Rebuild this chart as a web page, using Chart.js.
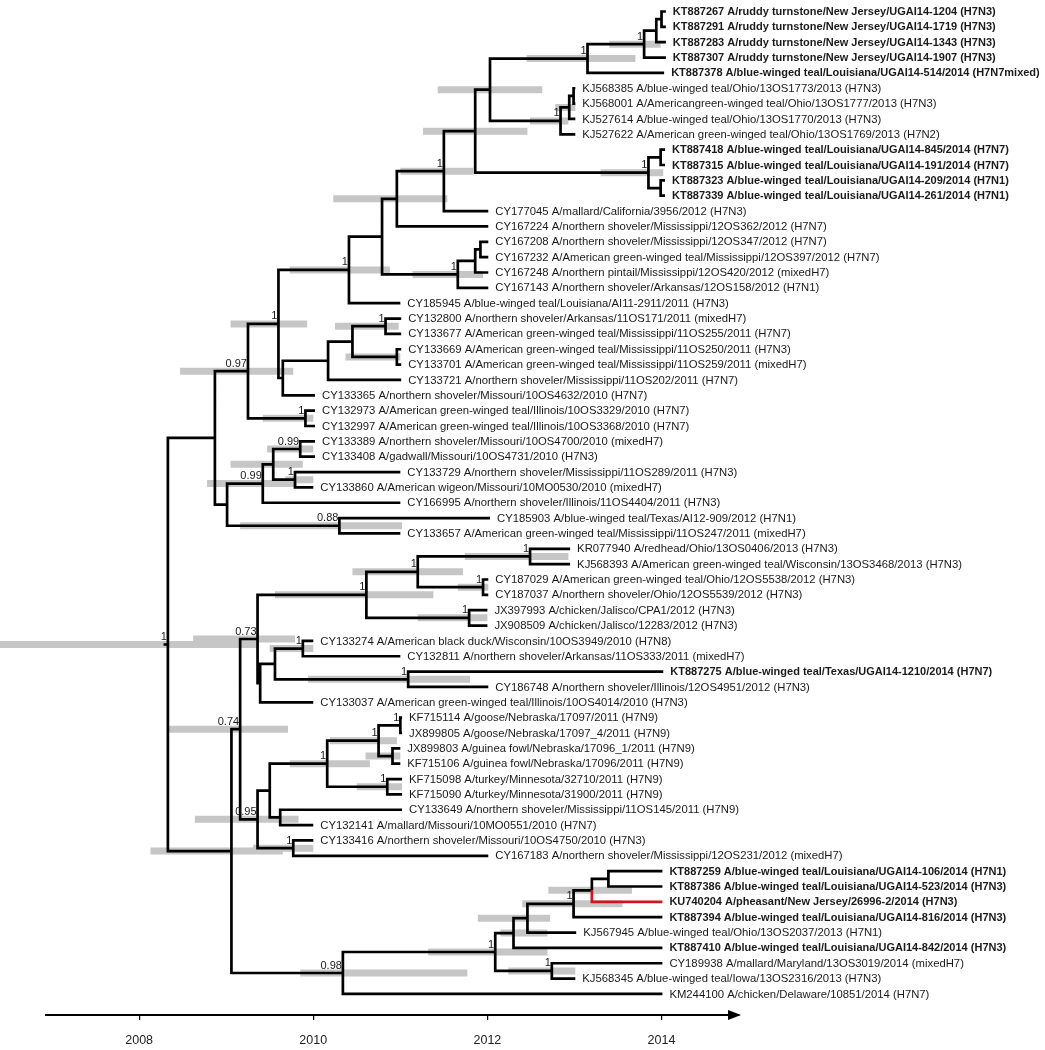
<!DOCTYPE html>
<html>
<head>
<meta charset="utf-8">
<title>H7 time-scaled phylogeny</title>
<script src="https://cdn.jsdelivr.net/npm/chart.js@4.4.1/dist/chart.umd.min.js"></script>
<style>
  body { margin: 0; background: #fff; }
  canvas { display: block; }
</style>
</head>
<body>
<canvas id="tree" width="1045" height="1050"></canvas>
<script>
// tip labels, top to bottom
const leafLabels = [
  'KT887267 A/ruddy turnstone/New Jersey/UGAI14-1204 (H7N3)',
  'KT887291 A/ruddy turnstone/New Jersey/UGAI14-1719 (H7N3)',
  'KT887283 A/ruddy turnstone/New Jersey/UGAI14-1343 (H7N3)',
  'KT887307 A/ruddy turnstone/New Jersey/UGAI14-1907 (H7N3)',
  'KT887378 A/blue-winged teal/Louisiana/UGAI14-514/2014 (H7N7mixed)',
  'KJ568385 A/blue-winged teal/Ohio/13OS1773/2013 (H7N3)',
  'KJ568001 A/Americangreen-winged teal/Ohio/13OS1777/2013 (H7N3)',
  'KJ527614 A/blue-winged teal/Ohio/13OS1770/2013 (H7N3)',
  'KJ527622 A/American green-winged teal/Ohio/13OS1769/2013 (H7N2)',
  'KT887418 A/blue-winged teal/Louisiana/UGAI14-845/2014 (H7N7)',
  'KT887315 A/blue-winged teal/Louisiana/UGAI14-191/2014 (H7N7)',
  'KT887323 A/blue-winged teal/Louisiana/UGAI14-209/2014 (H7N1)',
  'KT887339 A/blue-winged teal/Louisiana/UGAI14-261/2014 (H7N1)',
  'CY177045 A/mallard/California/3956/2012 (H7N3)',
  'CY167224 A/northern shoveler/Mississippi/12OS362/2012 (H7N7)',
  'CY167208 A/northern shoveler/Mississippi/12OS347/2012 (H7N7)',
  'CY167232 A/American green-winged teal/Mississippi/12OS397/2012 (H7N7)',
  'CY167248 A/northern pintail/Mississippi/12OS420/2012 (mixedH7)',
  'CY167143 A/northern shoveler/Arkansas/12OS158/2012 (H7N1)',
  'CY185945 A/blue-winged teal/Louisiana/AI11-2911/2011 (H7N3)',
  'CY132800 A/northern shoveler/Arkansas/11OS171/2011 (mixedH7)',
  'CY133677 A/American green-winged teal/Mississippi/11OS255/2011 (H7N7)',
  'CY133669 A/American green-winged teal/Mississippi/11OS250/2011 (H7N3)',
  'CY133701 A/American green-winged teal/Mississippi/11OS259/2011 (mixedH7)',
  'CY133721 A/northern shoveler/Mississippi/11OS202/2011 (H7N7)',
  'CY133365 A/northern shoveler/Missouri/10OS4632/2010 (H7N7)',
  'CY132973 A/American green-winged teal/Illinois/10OS3329/2010 (H7N7)',
  'CY132997 A/American green-winged teal/Illinois/10OS3368/2010 (H7N7)',
  'CY133389 A/northern shoveler/Missouri/10OS4700/2010 (mixedH7)',
  'CY133408 A/gadwall/Missouri/10OS4731/2010 (H7N3)',
  'CY133729 A/northern shoveler/Mississippi/11OS289/2011 (H7N3)',
  'CY133860 A/American wigeon/Missouri/10MO0530/2010 (mixedH7)',
  'CY166995 A/northern shoveler/Illinois/11OS4404/2011 (H7N3)',
  'CY185903 A/blue-winged teal/Texas/AI12-909/2012 (H7N1)',
  'CY133657 A/American green-winged teal/Mississippi/11OS247/2011 (mixedH7)',
  'KR077940 A/redhead/Ohio/13OS0406/2013 (H7N3)',
  'KJ568393 A/American green-winged teal/Wisconsin/13OS3468/2013 (H7N3)',
  'CY187029 A/American green-winged teal/Ohio/12OS5538/2012 (H7N3)',
  'CY187037 A/northern shoveler/Ohio/12OS5539/2012 (H7N3)',
  'JX397993 A/chicken/Jalisco/CPA1/2012 (H7N3)',
  'JX908509 A/chicken/Jalisco/12283/2012 (H7N3)',
  'CY133274 A/American black duck/Wisconsin/10OS3949/2010 (H7N8)',
  'CY132811 A/northern shoveler/Arkansas/11OS333/2011 (mixedH7)',
  'KT887275 A/blue-winged teal/Texas/UGAI14-1210/2014 (H7N7)',
  'CY186748 A/northern shoveler/Illinois/12OS4951/2012 (H7N3)',
  'CY133037 A/American green-winged teal/Illinois/10OS4014/2010 (H7N3)',
  'KF715114 A/goose/Nebraska/17097/2011 (H7N9)',
  'JX899805 A/goose/Nebraska/17097_4/2011 (H7N9)',
  'JX899803 A/guinea fowl/Nebraska/17096_1/2011 (H7N9)',
  'KF715106 A/guinea fowl/Nebraska/17096/2011 (H7N9)',
  'KF715098 A/turkey/Minnesota/32710/2011 (H7N9)',
  'KF715090 A/turkey/Minnesota/31900/2011 (H7N9)',
  'CY133649 A/northern shoveler/Mississippi/11OS145/2011 (H7N9)',
  'CY132141 A/mallard/Missouri/10MO0551/2010 (H7N7)',
  'CY133416 A/northern shoveler/Missouri/10OS4750/2010 (H7N3)',
  'CY167183 A/northern shoveler/Mississippi/12OS231/2012 (mixedH7)',
  'KT887259 A/blue-winged teal/Louisiana/UGAI14-106/2014 (H7N1)',
  'KT887386 A/blue-winged teal/Louisiana/UGAI14-523/2014 (H7N3)',
  'KU740204 A/pheasant/New Jersey/26996-2/2014 (H7N3)',
  'KT887394 A/blue-winged teal/Louisiana/UGAI14-816/2014 (H7N3)',
  'KJ567945 A/blue-winged teal/Ohio/13OS2037/2013 (H7N1)',
  'KT887410 A/blue-winged teal/Louisiana/UGAI14-842/2014 (H7N3)',
  'CY189938 A/mallard/Maryland/13OS3019/2014 (mixedH7)',
  'KJ568345 A/blue-winged teal/Iowa/13OS2316/2013 (H7N3)',
  'KM244100 A/chicken/Delaware/10851/2014 (H7N7)'
];

// tip dates (decimal years), same order
const leafDates = [
  2014.05, 2014.05, 2014.05, 2014.05, 2014.03,
  2013.01, 2013.01, 2013.01, 2013.01,
  2014.04, 2014.04, 2014.04, 2014.04,
  2012.01, 2012.01, 2012.01, 2012.01, 2012.01, 2012.01,
  2011.00,
  2011.01, 2011.01, 2011.01, 2011.01, 2011.01,
  2010.02, 2010.02, 2010.02, 2010.02, 2010.02,
  2011.00, 2010.00, 2011.00, 2012.03, 2011.00,
  2012.95, 2012.95, 2012.01, 2012.01, 2012.00, 2012.00,
  2010.00, 2011.00, 2014.02, 2012.01, 2010.00,
  2011.02, 2011.02, 2011.00, 2011.00, 2011.02, 2011.02,
  2011.02, 2010.00, 2010.00, 2012.01,
  2014.01, 2014.01, 2014.01, 2014.01, 2013.02, 2014.01,
  2014.01, 2013.01, 2014.01
];

// sequences from this study (bold) and the highlighted one (red branch)
const studyIsolates = ['KT887267', 'KT887291', 'KT887283', 'KT887307', 'KT887378',
  'KT887418', 'KT887315', 'KT887323', 'KT887339', 'KT887275',
  'KT887259', 'KT887386', 'KU740204', 'KT887394', 'KT887410'];
const highlightIsolate = 'KU740204';

const yearTicks = [2008, 2010, 2012, 2014];

// internal nodes: [id, children, node date, posterior, 95% HPD low, 95% HPD high]
const nodes = [
  ['a1', ['KT887267', 'KT887291'], 2014.00, null, null, null],
  ['a2', ['a1', 'KT887283'], 2013.94, null, null, null],
  ['a3', ['a2', 'KT887307'], 2013.80, '1', 2013.40, 2013.99],
  ['a4', ['a3', 'KT887378'], 2013.15, '1', 2012.45, 2013.70],
  ['b1', ['KJ568385', 'KJ568001'], 2012.99, null, null, null],
  ['b2', ['b1', 'KJ527614'], 2012.94, null, 2012.78, 2013.01],
  ['b3', ['b2', 'KJ527622'], 2012.84, '1', 2012.49, 2012.93],
  ['c1', ['a4', 'b3'], 2012.03, null, 2011.43, 2012.63],
  ['d1', ['KT887418', 'KT887315'], 2013.99, null, null, null],
  ['d2', ['KT887323', 'KT887339'], 2013.99, null, null, null],
  ['d3', ['d1', 'd2'], 2013.85, '1', 2013.30, 2014.02],
  ['c2', ['c1', 'd3'], 2011.86, null, 2011.26, 2012.46],
  ['c3', ['c2', 'CY177045'], 2011.50, '1', 2011.00, 2011.84],
  ['c4', ['c3', 'CY167224'], 2010.96, null, 2010.23, 2011.54],
  ['e1', ['CY167208', 'CY167232'], 2011.92, null, null, null],
  ['e2', ['e1', 'CY167248'], 2011.86, null, null, null],
  ['e3', ['e2', 'CY167143'], 2011.66, '1', 2011.14, 2011.95],
  ['c5', ['c4', 'e3'], 2010.79, null, null, null],
  ['c6', ['c5', 'CY185945'], 2010.41, '1', 2009.73, 2010.88],
  ['f1', ['CY132800', 'CY133677'], 2010.83, '1', 2010.25, 2010.98],
  ['f2', ['CY133669', 'CY133701'], 2010.96, null, 2010.37, 2011.00],
  ['f3', ['f1', 'f2'], 2010.45, null, null, null],
  ['f4', ['f3', 'CY133721'], 2010.17, null, null, null],
  ['f5', ['f4', 'CY133365'], 2009.65, null, null, null],
  ['g1', ['c6', 'f5'], 2009.60, '1', 2009.05, 2009.93],
  ['g2', ['CY132973', 'CY132997'], 2009.91, '1', 2009.42, 2010.00],
  ['g3', ['g1', 'g2'], 2009.25, '0.97', 2008.47, 2009.77],
  ['h1', ['CY133389', 'CY133408'], 2009.85, '0.99', 2009.47, 2010.00],
  ['h2', ['CY133729', 'CY133860'], 2009.79, '1', 2009.68, 2010.00],
  ['h3', ['h1', 'h2'], 2009.54, null, 2009.05, 2009.88],
  ['h4', ['h3', 'CY166995'], 2009.42, '0.99', 2008.78, 2009.81],
  ['h5', ['CY185903', 'CY133657'], 2010.30, '0.88', 2009.16, 2011.02],
  ['h6', ['h4', 'h5'], 2009.01, null, null, null],
  ['u1', ['g3', 'h6'], 2008.87, null, null, null],
  ['i1', ['KR077940', 'KJ568393'], 2012.49, '1', 2011.74, 2012.93],
  ['i2', ['CY187029', 'CY187037'], 2011.95, '1', 2011.66, 2012.01],
  ['i3', ['i1', 'i2'], 2011.20, '1', 2010.45, 2011.72],
  ['i4', ['JX397993', 'JX908509'], 2011.79, '1', 2011.20, 2012.00],
  ['i5', ['i3', 'i4'], 2010.61, '1', 2009.56, 2011.38],
  ['j1', ['CY133274', 'CY132811'], 2009.88, '1', 2009.50, 2010.00],
  ['j2', ['KT887275', 'CY186748'], 2011.09, '1', 2009.94, 2011.80],
  ['j3', ['j1', 'j2'], 2009.56, null, null, null],
  ['j4', ['j3', 'CY133037'], 2009.39, null, null, null],
  ['i6', ['i5', 'j4'], 2009.36, '0.73', 2008.62, 2009.79],
  ['k1', ['KF715114', 'JX899805'], 2011.00, '1', null, null],
  ['k2', ['JX899803', 'KF715106'], 2010.91, null, 2010.60, 2011.00],
  ['k3', ['k1', 'k2'], 2010.75, '1', 2010.19, 2010.96],
  ['k4', ['KF715098', 'KF715090'], 2010.85, '1', 2010.50, 2011.02],
  ['k5', ['k3', 'k4'], 2010.16, '1', 2009.73, 2010.65],
  ['k6', ['CY133649', 'CY132141'], 2009.62, null, null, null],
  ['k7', ['k5', 'k6'], 2009.50, null, null, null],
  ['k8', ['CY133416', 'CY167183'], 2009.77, '1', 2009.31, 2010.00],
  ['k9', ['k7', 'k8'], 2009.36, '0.95', 2008.64, 2009.83],
  ['m1', ['i6', 'k9'], 2009.16, '0.74', 2008.32, 2009.71],
  ['p1', ['KT887259', 'KT887386'], 2013.39, null, null, null],
  ['p2', ['p1', 'KU740204'], 2013.20, null, 2012.70, 2013.66],
  ['p3', ['p2', 'KT887394'], 2012.99, '1', 2012.40, 2013.55],
  ['p4', ['p3', 'KJ567945'], 2012.46, null, 2011.89, 2012.72],
  ['p5', ['p4', 'KT887410'], 2012.30, null, 2012.15, 2012.69],
  ['p6', ['CY189938', 'KJ568345'], 2012.74, '1', 2012.24, 2013.01],
  ['p7', ['p5', 'p6'], 2012.09, '1', 2011.32, 2012.69],
  ['p8', ['p7', 'KM244100'], 2010.34, '0.98', 2009.85, 2011.77],
  ['m2', ['m1', 'p8'], 2009.06, null, 2008.13, 2009.65],
  ['root', ['u1', 'm2'], 2008.33, '1', 2006.20, 2009.36]
];

const FONT = '"Liberation Sans", Arial, Helvetica, sans-serif';

// work out node positions: tips on rows, internal nodes between first and last child
const pos = {};
leafLabels.forEach((lab, i) => {
  pos[lab.split(' ')[0]] = { t: leafDates[i], y: i };
});
nodes.forEach(n => {
  const kids = n[1];
  pos[n[0]] = { t: n[2], y: (pos[kids[0]].y + pos[kids[kids.length - 1]].y) / 2 };
});

const branchPts = [];
const redPts = [];
const hpdPts = [];
nodes.forEach(n => {
  const p = pos[n[0]];
  n[1].forEach(k => {
    const c = pos[k];
    const arr = (k === highlightIsolate) ? redPts : branchPts;
    arr.push({ x: p.t, y: p.y }, { x: p.t, y: c.y }, { x: c.t, y: c.y }, { x: c.t, y: null });
  });
  if (n[4] !== null) {
    hpdPts.push({ x: n[4], y: p.y }, { x: n[5], y: p.y }, { x: n[5], y: null });
  }
});
// short stem above the root
const rootPos = pos['root'];
branchPts.push({ x: rootPos.t - 0.05, y: rootPos.y }, { x: rootPos.t, y: rootPos.y });

const labelPlugin = {
  id: 'treeLabels',
  afterDatasetsDraw(chart) {
    const ctx = chart.ctx;
    const xs = chart.scales.x, ys = chart.scales.y;
    ctx.save();
    ctx.fillStyle = '#1a1a1a';
    ctx.textBaseline = 'middle';
    ctx.textAlign = 'left';
    leafLabels.forEach((lab, i) => {
      const bold = studyIsolates.includes(lab.split(' ')[0]);
      ctx.font = bold ? 'bold 11px ' + FONT : '11.3px ' + FONT;
      ctx.fillText(lab, xs.getPixelForValue(leafDates[i]) + 7, ys.getPixelForValue(i) + 0.5);
    });
    ctx.font = '11px ' + FONT;
    ctx.textAlign = 'right';
    ctx.textBaseline = 'bottom';
    nodes.forEach(n => {
      if (!n[3]) return;
      const p = pos[n[0]];
      ctx.fillText(n[3], xs.getPixelForValue(p.t) - 1, ys.getPixelForValue(p.y) - 2);
    });
    ctx.restore();
  },
  afterDraw(chart) {
    // arrow head at the end of the time axis
    const ctx = chart.ctx;
    const a = chart.chartArea;
    ctx.save();
    ctx.fillStyle = '#000';
    ctx.beginPath();
    ctx.moveTo(a.right + 2, a.bottom);
    ctx.lineTo(a.right - 11, a.bottom - 5);
    ctx.lineTo(a.right - 11, a.bottom + 5);
    ctx.closePath();
    ctx.fill();
    ctx.restore();
  }
};

new Chart(document.getElementById('tree'), {
  type: 'scatter',
  data: {
    datasets: [
      {
        data: redPts, showLine: true, borderColor: '#d0161b', borderWidth: 2.7,
        pointRadius: 0, spanGaps: false, clip: false, order: 0
      },
      {
        data: branchPts, showLine: true, borderColor: '#000', borderWidth: 2.7,
        pointRadius: 0, spanGaps: false, clip: false, order: 1
      },
      {
        data: hpdPts, showLine: true, borderColor: '#c6c6c6', borderWidth: 7,
        borderCapStyle: 'butt', pointRadius: 0, spanGaps: false, clip: false, order: 2
      }
    ]
  },
  options: {
    responsive: false,
    devicePixelRatio: 1,
    animation: false,
    layout: { padding: { left: 46, right: 306, top: 0, bottom: 0 } },
    plugins: { legend: { display: false }, tooltip: { enabled: false } },
    elements: { line: { borderJoinStyle: 'miter', tension: 0 } },
    scales: {
      x: {
        type: 'linear',
        position: 'bottom',
        min: 2006.93,
        max: 2014.89,
        afterBuildTicks: s => { s.ticks = yearTicks.map(v => ({ value: v })); },
        afterFit: s => { s.height = 35; },
        border: { display: true, color: '#000', width: 2 },
        grid: { display: true, drawOnChartArea: false, drawTicks: true, tickLength: 5, color: '#000', lineWidth: 1.2 },
        ticks: { color: '#222', padding: 13, font: { family: FONT, size: 12.5 }, callback: v => String(v) }
      },
      y: {
        type: 'linear',
        display: false,
        reverse: true,
        min: -0.75,
        max: 65.37
      }
    }
  },
  plugins: [labelPlugin]
});
</script>
</body>
</html>
